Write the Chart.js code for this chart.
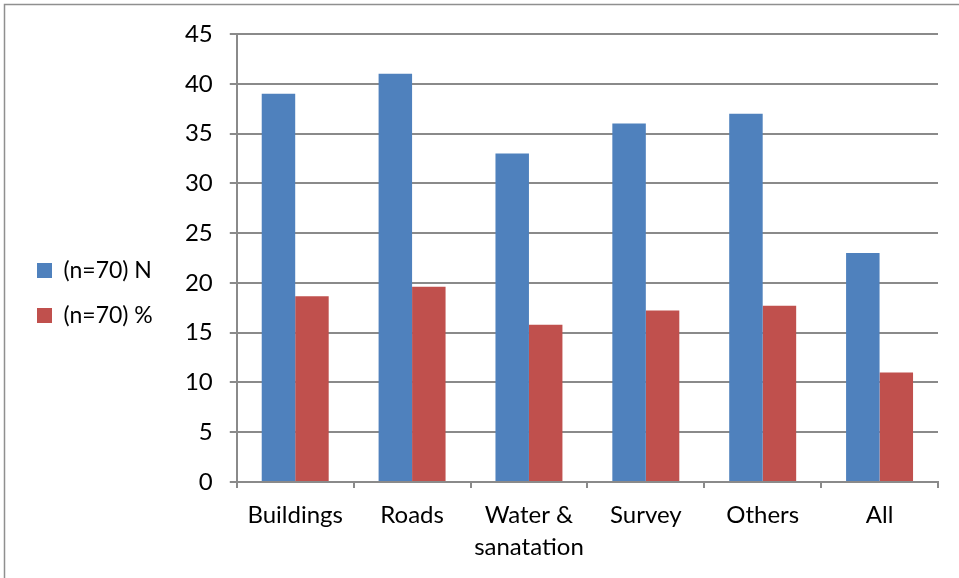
<!DOCTYPE html>
<html lang="en">
<head>
    <meta charset="UTF-8">
    <title>(n=70)</title>
    <script src="https://cdn.jsdelivr.net/npm/chart.js"></script>
    <style>
        html, body { margin: 0; padding: 0; background: #fff; }
        #wrap { width: 959px; height: 578px; position: relative; }
    </style>
</head>
<body>
<div id="wrap"><canvas id="chart" width="959" height="578"></canvas></div>
<script>
    // categories and series
    const categories = ['Buildings', 'Roads', ['Water &', 'sanatation'], 'Survey', 'Others', 'All'];
    const countN = [39, 41, 33, 36, 37, 23];
    const percent = [18.66, 19.62, 15.79, 17.22, 17.70, 11.00];
    const yTicks = [0, 5, 10, 15, 20, 25, 30, 35, 40, 45];

    const gridColor = '#8a8a8a';
    const family = 'Lato, "Liberation Sans", sans-serif';

    // outer frame around the chart
    const framePlugin = {
        id: 'frame',
        beforeDraw(chart) {
            const ctx = chart.ctx;
            ctx.save();
            ctx.strokeStyle = '#8f8f8f';
            ctx.lineWidth = 1.5;
            ctx.beginPath();
            ctx.moveTo(4.5, 578);
            ctx.lineTo(4.5, 4.5);
            ctx.lineTo(959, 4.5);
            ctx.stroke();
            ctx.restore();
        }
    };

    new Chart(document.getElementById('chart'), {
        type: 'bar',
        data: {
            labels: categories,
            datasets: [{
                label: '(n=70) N',
                data: countN,
                backgroundColor: '#4F81BD',
                categoryPercentage: 0.573,
                barPercentage: 1
            }, {
                label: '(n=70) %',
                data: percent,
                backgroundColor: '#C0504D',
                categoryPercentage: 0.573,
                barPercentage: 1
            }]
        },
        options: {
            responsive: false,
            animation: false,
            layout: { padding: { top: 8, bottom: 0, left: 15, right: 21 } },
            plugins: {
                // blank title only reserves space above the plot
                title: {
                    display: true,
                    text: ' ',
                    font: { size: 10, lineHeight: 1 },
                    padding: 8
                },
                legend: {
                    position: 'left',
                    labels: {
                        boxWidth: 15,
                        boxHeight: 15,
                        padding: 22,
                        color: '#000',
                        font: { family: family, size: 23 }
                    }
                },
                tooltip: { enabled: false }
            },
            scales: {
                x: {
                    offset: true,
                    grid: {
                        offset: true,
                        drawOnChartArea: false,
                        drawTicks: true,
                        tickLength: 6,
                        color: gridColor,
                        lineWidth: 2
                    },
                    border: { color: gridColor, width: 2 },
                    ticks: {
                        color: '#000',
                        font: { family: family, size: 24, lineHeight: 1.33 },
                        padding: 11,
                        maxRotation: 0,
                        autoSkip: false
                    },
                    afterFit(scale) { scale.height = 96; }
                },
                y: {
                    min: 0,
                    max: 45,
                    afterBuildTicks(scale) { scale.ticks = yTicks.map(v => ({ value: v })); },
                    grid: {
                        color: gridColor,
                        lineWidth: 2,
                        tickLength: 7
                    },
                    border: { color: gridColor, width: 2 },
                    ticks: {
                        color: '#000',
                        font: { family: family, size: 24 },
                        padding: 17
                    },
                    afterFit(scale) { scale.width = 74; }
                }
            }
        },
        plugins: [framePlugin]
    });
</script>
</body>
</html>
